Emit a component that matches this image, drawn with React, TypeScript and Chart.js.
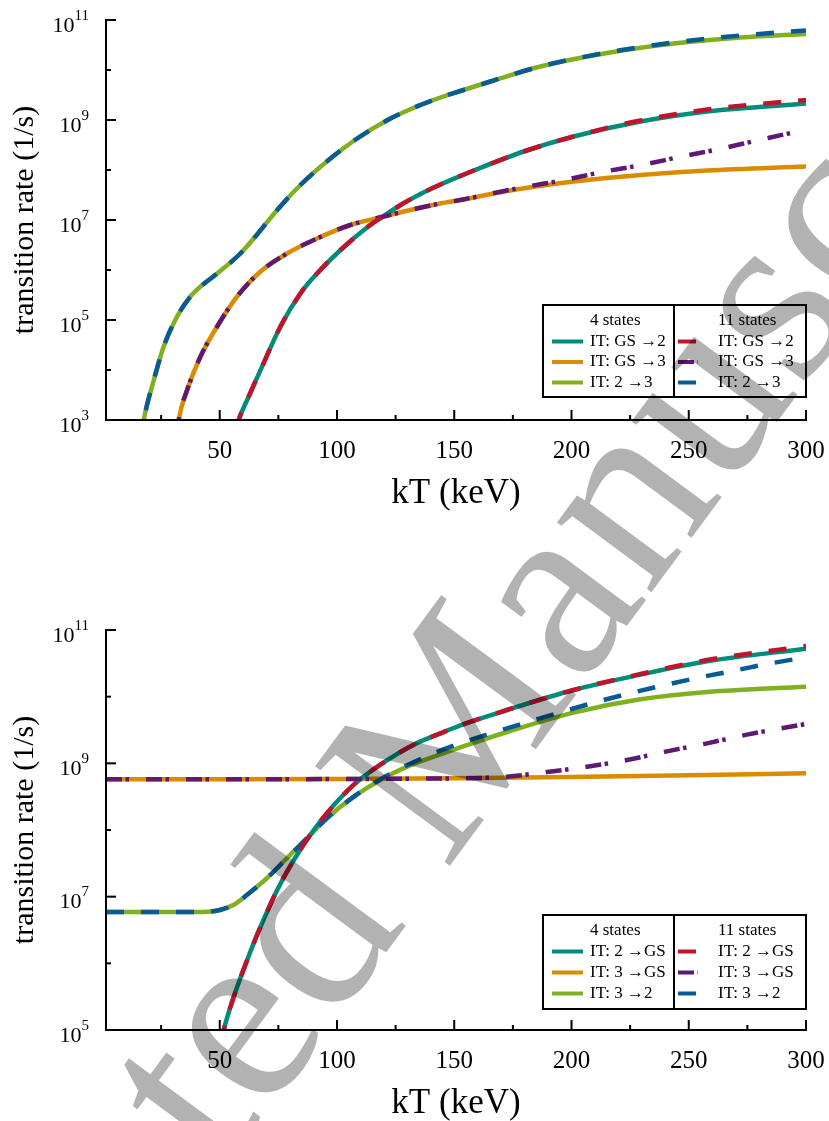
import React, { useEffect, useRef } from "react";
import { Chart, registerables } from "chart.js";
Chart.register(...registerables);

const SERIF = '"Liberation Serif", "Times New Roman", serif';

// ---------- axes ----------
const KT_MIN = 1.5;
const KT_MAX = 300;
const KT_TICKS = [25, 50, 75, 100, 125, 150, 175, 200, 225, 250, 275, 300];
const KT_LABELED = [50, 100, 150, 200, 250, 300];
const X_TITLE = "kT (keV)";
const Y_TITLE = "transition rate (1/s)";
const LEGEND_TITLES: [string, string] = ["4 states", "11 states"];

// ---------- colours / styles ----------
const C_TEAL = "#008c78";
const C_ORANGE = "#da8c00";
const C_GREEN = "#80b020";
const C_RED = "#c0142c";
const C_PURPLE = "#5e1a72";
const C_BLUE = "#0a5a94";
const DASH = [18, 17];
const DASHDOT = [16, 3.5, 3.5, 17];

// ---------- TOP panel data (kT in keV, rate exponent log10(1/s)) ----------
const topGS2_kT = [57, 58.1, 61.7, 67.4, 75.9, 84.4, 91.5, 101.5, 112.8, 119.9, 127.1, 135.6, 144.1, 152.6, 158.3, 179.6, 200.9, 229.4, 257.8, 280, 300];
const topGS2_4 = [2.8, 3.0, 3.4, 4.0, 4.87, 5.53, 5.93, 6.4, 6.85, 7.08, 7.3, 7.52, 7.71, 7.88, 7.99, 8.37, 8.67, 8.97, 9.17, 9.26, 9.33];
const topGS2_11 = [2.8, 3.0, 3.4, 4.0, 4.87, 5.53, 5.93, 6.4, 6.85, 7.08, 7.3, 7.52, 7.71, 7.88, 7.99, 8.37, 8.67, 8.99, 9.21, 9.32, 9.4];

const topGS3_kT4 = [31.5, 32.5, 36.1, 41.8, 48.9, 57.4, 67.4, 78.7, 91.5, 105.7, 119.9, 134.1, 144.1, 152.6, 172.5, 200.9, 229.4, 257.8, 300];
const topGS3_4 = [2.6, 3.0, 3.6, 4.27, 4.87, 5.47, 5.97, 6.33, 6.63, 6.9, 7.07, 7.23, 7.33, 7.4, 7.58, 7.77, 7.9, 7.99, 8.07];
const topGS3_kT11 = [31.5, 32.5, 36.1, 41.8, 48.9, 57.4, 67.4, 78.7, 91.5, 105.7, 119.9, 134.1, 144.1, 152.6, 165, 180, 197, 213, 230, 247, 264, 280, 297, 300];
const topGS3_11 = [2.6, 3.0, 3.6, 4.27, 4.87, 5.47, 5.97, 6.33, 6.63, 6.9, 7.07, 7.23, 7.33, 7.4, 7.52, 7.66, 7.8, 7.96, 8.1, 8.27, 8.43, 8.6, 8.77, 8.79];

const top23_kT = [16, 17.6, 21.9, 26.1, 31.8, 37.5, 41.8, 48.9, 58.8, 64.5, 74.5, 84.4, 97.2, 108.6, 122.8, 135.6, 144.1, 152.6, 165.4, 186.7, 215.2, 243.6, 272, 300];
const top23_4 = [2.5, 3.0, 3.8, 4.47, 5.07, 5.47, 5.67, 5.93, 6.33, 6.63, 7.2, 7.7, 8.23, 8.63, 9.03, 9.3, 9.45, 9.58, 9.77, 10.07, 10.34, 10.53, 10.65, 10.72];
const top23_11 = [2.5, 3.0, 3.8, 4.47, 5.07, 5.47, 5.67, 5.93, 6.33, 6.63, 7.2, 7.7, 8.23, 8.63, 9.03, 9.3, 9.45, 9.58, 9.77, 10.07, 10.35, 10.55, 10.69, 10.79];

// ---------- BOTTOM panel data ----------
const bot2GS_kT = [50.5, 51.7, 56, 61.7, 67.4, 74.5, 81.6, 90.1, 98.6, 107.2, 118.5, 132.7, 144.1, 152.6, 172.5, 200.9, 229.4, 257.8, 300];
const bot2GS_4 = [4.8, 5.0, 5.5, 6.05, 6.55, 7.1, 7.55, 8.0, 8.37, 8.68, 8.98, 9.28, 9.45, 9.57, 9.8, 10.1, 10.33, 10.53, 10.72];
const bot2GS_11 = [4.8, 5.0, 5.5, 6.05, 6.55, 7.1, 7.55, 8.0, 8.37, 8.68, 8.98, 9.28, 9.45, 9.57, 9.8, 10.1, 10.34, 10.55, 10.76];

const bot3GS_kT4 = [1.5, 50, 100, 150, 200, 250, 300];
const bot3GS_4 = [8.76, 8.76, 8.765, 8.775, 8.795, 8.82, 8.85];
const bot3GS_kT11 = [1.5, 50, 100, 150, 165, 172.5, 189.6, 206.6, 223.7, 240.7, 257.8, 274.8, 291.9, 300];
const bot3GS_11 = [8.76, 8.76, 8.765, 8.775, 8.785, 8.8, 8.87, 8.95, 9.05, 9.18, 9.3, 9.43, 9.54, 9.59];

const bot32_kT4 = [1.5, 30, 45, 50, 56, 61.7, 70.2, 78.7, 87.3, 95.8, 107.2, 118.5, 129.9, 141.3, 152.6, 172.5, 200.9, 229.4, 257.8, 300];
const bot32_4 = [6.77, 6.77, 6.775, 6.8, 6.88, 7.03, 7.28, 7.58, 7.88, 8.18, 8.5, 8.75, 8.95, 9.1, 9.24, 9.47, 9.76, 9.96, 10.07, 10.15];
const bot32_kT11 = [1.5, 30, 45, 50, 56, 61.7, 70.2, 78.7, 87.3, 95.8, 107.2, 118.5, 129.9, 141.3, 152.6, 164, 179.6, 193.8, 209.5, 223.7, 239.3, 253.5, 269.2, 283.4, 300];
const bot32_11 = [6.77, 6.77, 6.775, 6.8, 6.88, 7.03, 7.28, 7.58, 7.88, 8.18, 8.5, 8.76, 8.97, 9.15, 9.3, 9.43, 9.6, 9.75, 9.91, 10.04, 10.17, 10.28, 10.39, 10.49, 10.59];

// ---------- watermark ----------
const WM_TEXT = "Accepted Manuscript";

type Series = { label: string; kT: number[]; exp: number[]; color: string; dash: number[] };

interface PanelSpec {
  pageTop: number;
  height: number;
  areaTop: number;
  areaBottom: number;
  yMinExp: number;
  yMaxExp: number;
  solid: Series[];
  dashed: Series[];
  legendGap: number;
  legendH: number;
  rowStep: number;
}

const toPoints = (kT: number[], exp: number[]) => kT.map((x, i) => ({ x, y: Math.pow(10, exp[i]) }));

function drawWatermark(ctx: CanvasRenderingContext2D, pageTop: number) {
  ctx.save();
  ctx.font = `256px ${SERIF}`;
  const ang = (-53.6 * Math.PI) / 180;
  const pre = ctx.measureText("Accep").width;
  const tx = 222 - pre * Math.cos(ang);
  const ty = 1175 - pre * Math.sin(ang);
  ctx.translate(tx, ty - pageTop);
  ctx.rotate(ang);
  ctx.fillStyle = "rgba(0,0,0,0.3)";
  ctx.textBaseline = "alphabetic";
  ctx.textAlign = "left";
  ctx.fillText(WM_TEXT, 0, 0);
  ctx.restore();
}

function drawSample(ctx: CanvasRenderingContext2D, x0: number, x1: number, y: number, s: Series) {
  ctx.save();
  ctx.strokeStyle = s.color;
  ctx.lineWidth = 4;
  ctx.lineCap = "butt";
  ctx.setLineDash(s.dash);
  ctx.beginPath();
  ctx.moveTo(x0, y);
  ctx.lineTo(x1, y);
  ctx.stroke();
  ctx.restore();
}

function panelPlugin(spec: PanelSpec) {
  return {
    id: "panelDecor",
    afterDraw(chart: any) {
      const ctx = chart.ctx as CanvasRenderingContext2D;
      const a = chart.chartArea;
      const xs = chart.scales.x;
      const ys = chart.scales.y;
      ctx.save();
      ctx.strokeStyle = "#000";
      ctx.fillStyle = "#000";
      ctx.lineWidth = 2;
      ctx.lineCap = "butt";
      ctx.lineJoin = "miter";
      // axis lines
      ctx.beginPath();
      ctx.moveTo(a.left, a.top - 1);
      ctx.lineTo(a.left, a.bottom);
      ctx.lineTo(a.right + 1, a.bottom);
      ctx.stroke();
      // x ticks (inward)
      for (const v of KT_TICKS) {
        const px = xs.getPixelForValue(v);
        const len = KT_LABELED.includes(v) ? 10 : 5;
        ctx.beginPath();
        ctx.moveTo(px, a.bottom);
        ctx.lineTo(px, a.bottom - len);
        ctx.stroke();
      }
      ctx.font = `25px ${SERIF}`;
      ctx.textAlign = "center";
      ctx.textBaseline = "alphabetic";
      for (const v of KT_LABELED) {
        ctx.fillText(String(v), xs.getPixelForValue(v), a.bottom + 38);
      }
      // y ticks
      for (let e = spec.yMinExp; e <= spec.yMaxExp; e++) {
        const py = ys.getPixelForValue(Math.pow(10, e));
        const major = e % 2 !== 0;
        ctx.beginPath();
        ctx.moveTo(a.left, py);
        ctx.lineTo(a.left + (major ? 10 : 5), py);
        ctx.stroke();
        if (major) {
          const right = a.left - 17;
          ctx.textAlign = "left";
          ctx.font = `15px ${SERIF}`;
          const sup = String(e);
          const ws = ctx.measureText(sup).width;
          ctx.font = `22px ${SERIF}`;
          const wb = ctx.measureText("10").width;
          ctx.fillText("10", right - ws - wb, py + 11.5);
          ctx.font = `15px ${SERIF}`;
          ctx.fillText(sup, right - ws, py - 0.5);
        }
      }
      // titles
      ctx.font = `35px ${SERIF}`;
      ctx.textAlign = "center";
      ctx.fillText(X_TITLE, (a.left + a.right) / 2, a.bottom + 83);
      ctx.save();
      ctx.translate(33, (a.top + a.bottom) / 2);
      ctx.rotate(-Math.PI / 2);
      ctx.font = `30px ${SERIF}`;
      ctx.textAlign = "center";
      ctx.fillText(Y_TITLE, 0, 0);
      ctx.restore();

      // legend
      const bw = 263;
      const L = a.right - bw;
      const B = a.bottom - spec.legendGap;
      const T = B - spec.legendH;
      const D = L + 131;
      ctx.fillStyle = "#fff";
      ctx.fillRect(L, T, bw, spec.legendH);
      ctx.strokeStyle = "#000";
      ctx.lineWidth = 2;
      ctx.strokeRect(L, T, bw, spec.legendH);
      ctx.beginPath();
      ctx.moveTo(D, T);
      ctx.lineTo(D, B);
      ctx.stroke();
      ctx.fillStyle = "#000";
      ctx.font = `17px ${SERIF}`;
      ctx.textAlign = "left";
      ctx.textBaseline = "middle";
      ctx.fillText(LEGEND_TITLES[0], L + 47, T + 16);
      ctx.fillText(LEGEND_TITLES[1], D + 44, T + 16);
      for (let i = 0; i < 3; i++) {
        const y = T + 36.5 + i * spec.rowStep;
        const s4 = spec.solid[i];
        const s11 = spec.dashed[i];
        drawSample(ctx, L + 9, L + 40, y, s4);
        drawSample(ctx, D + 4, D + 24, y, s11);
        ctx.fillStyle = "#000";
        ctx.fillText(s4.label, L + 47, y);
        ctx.fillText(s11.label, D + 44, y);
      }
      ctx.restore();

      drawWatermark(ctx, spec.pageTop);
    },
  };
}

const TOP: PanelSpec = {
  pageTop: 0,
  height: 560,
  areaTop: 20,
  areaBottom: 420,
  yMinExp: 3,
  yMaxExp: 11,
  solid: [
    { label: "IT: GS →2", kT: topGS2_kT, exp: topGS2_4, color: C_TEAL, dash: [] },
    { label: "IT: GS →3", kT: topGS3_kT4, exp: topGS3_4, color: C_ORANGE, dash: [] },
    { label: "IT: 2 →3", kT: top23_kT, exp: top23_4, color: C_GREEN, dash: [] },
  ],
  dashed: [
    { label: "IT: GS →2", kT: topGS2_kT, exp: topGS2_11, color: C_RED, dash: DASH },
    { label: "IT: GS →3", kT: topGS3_kT11, exp: topGS3_11, color: C_PURPLE, dash: DASHDOT },
    { label: "IT: 2 →3", kT: top23_kT, exp: top23_11, color: C_BLUE, dash: DASH },
  ],
  legendGap: 23,
  legendH: 92,
  rowStep: 20.5,
};

const BOTTOM: PanelSpec = {
  pageTop: 560,
  height: 561,
  areaTop: 70,
  areaBottom: 470,
  yMinExp: 5,
  yMaxExp: 11,
  solid: [
    { label: "IT: 2 →GS", kT: bot2GS_kT, exp: bot2GS_4, color: C_TEAL, dash: [] },
    { label: "IT: 3 →GS", kT: bot3GS_kT4, exp: bot3GS_4, color: C_ORANGE, dash: [] },
    { label: "IT: 3 →2", kT: bot32_kT4, exp: bot32_4, color: C_GREEN, dash: [] },
  ],
  dashed: [
    { label: "IT: 2 →GS", kT: bot2GS_kT, exp: bot2GS_11, color: C_RED, dash: DASH },
    { label: "IT: 3 →GS", kT: bot3GS_kT11, exp: bot3GS_11, color: C_PURPLE, dash: DASHDOT },
    { label: "IT: 3 →2", kT: bot32_kT11, exp: bot32_11, color: C_BLUE, dash: DASH },
  ],
  legendGap: 21,
  legendH: 94,
  rowStep: 21,
};

function Panel({ spec }: { spec: PanelSpec }) {
  const ref = useRef<HTMLCanvasElement | null>(null);
  useEffect(() => {
    if (!ref.current) return;
    const mk = (s: Series, order: number) => ({
      label: s.label,
      data: toPoints(s.kT, s.exp),
      borderColor: s.color,
      backgroundColor: s.color,
      borderWidth: 4.5,
      borderDash: s.dash,
      borderCapStyle: "butt",
      pointRadius: 0,
      pointHoverRadius: 0,
      cubicInterpolationMode: "monotone",
      fill: false,
      order,
      clip: 0,
    });
    const datasets = [...spec.solid.map((s) => mk(s, 1)), ...spec.dashed.map((s) => mk(s, 0))];
    const chart = new Chart(ref.current, {
      type: "line",
      data: { datasets: datasets as any },
      options: {
        animation: false,
        responsive: false,
        maintainAspectRatio: false,
        devicePixelRatio: 1,
        events: [],
        layout: { padding: { left: 106, right: 23, top: spec.areaTop, bottom: spec.height - spec.areaBottom } },
        plugins: { legend: { display: false }, tooltip: { enabled: false }, title: { display: false } },
        scales: {
          x: { type: "linear", min: KT_MIN, max: KT_MAX, display: false },
          y: { type: "logarithmic", min: Math.pow(10, spec.yMinExp), max: Math.pow(10, spec.yMaxExp), display: false },
        },
      } as any,
      plugins: [panelPlugin(spec)],
    });
    return () => chart.destroy();
  }, [spec]);
  return (
    <canvas
      ref={ref}
      width={829}
      height={spec.height}
      style={{ position: "absolute", left: 0, top: spec.pageTop, width: 829, height: spec.height, display: "block" }}
    />
  );
}

export default function App() {
  return (
    <div style={{ position: "absolute", left: 0, top: 0, width: 829, height: 1121, background: "#fff", overflow: "hidden" }}>
      <Panel spec={TOP} />
      <Panel spec={BOTTOM} />
    </div>
  );
}
